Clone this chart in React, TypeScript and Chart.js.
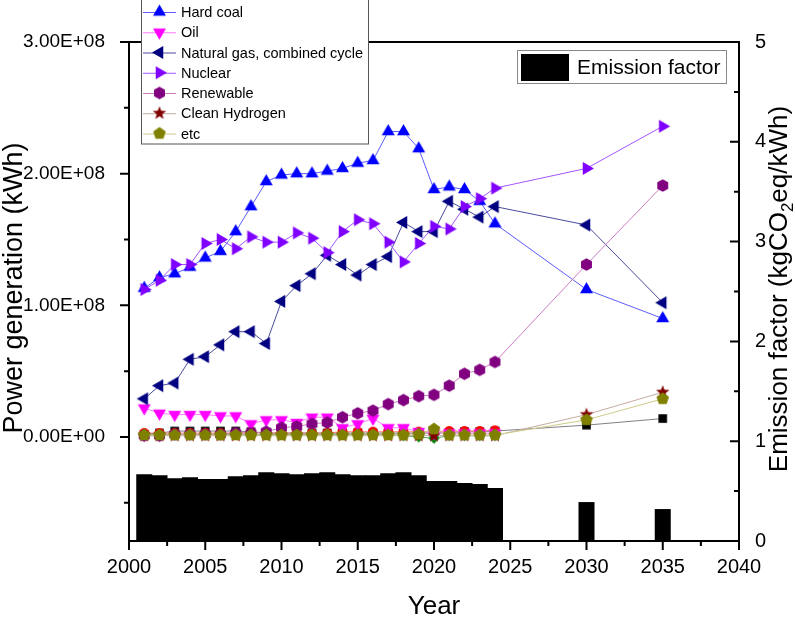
import React, { useEffect, useRef } from "react";
import { Chart, registerables } from "chart.js";

Chart.register(...registerables);

const FONT = '"Liberation Sans", Arial, sans-serif';

const years = [
  2001, 2002, 2003, 2004, 2005, 2006, 2007, 2008, 2009, 2010, 2011, 2012,
  2013, 2014, 2015, 2016, 2017, 2018, 2019, 2020, 2021, 2022, 2023, 2024,
  2030, 2035,
];

const hardCoal = [
  1.13e8, 1.21e8, 1.24e8, 1.29e8, 1.36e8, 1.41e8, 1.56e8, 1.75e8, 1.94e8, 1.99e8,
  2.0e8, 2.0e8, 2.02e8, 2.04e8, 2.08e8, 2.1e8, 2.32e8, 2.32e8, 2.19e8, 1.88e8,
  1.9e8, 1.88e8, 1.79e8, 1.62e8, 1.12e8, 0.9e8,
];
const oil = [
  0.22e8, 0.18e8, 0.17e8, 0.17e8, 0.17e8, 0.16e8, 0.16e8, 0.1e8, 0.13e8, 0.13e8,
  0.11e8, 0.15e8, 0.15e8, 0.07e8, 0.1e8, 0.14e8, 0.07e8, 0.07e8, 0.04e8, 0.03e8,
  0.03e8, 0.03e8, 0.03e8, 0.03e8, null, null,
];
const naturalGas = [
  0.29e8, 0.39e8, 0.41e8, 0.59e8, 0.61e8, 0.7e8, 0.8e8, 0.8e8, 0.71e8, 1.03e8,
  1.15e8, 1.24e8, 1.38e8, 1.31e8, 1.23e8, 1.31e8, 1.37e8, 1.63e8, 1.56e8, 1.56e8,
  1.79e8, 1.73e8, 1.67e8, 1.75e8, 1.61e8, 1.02e8,
];
const nuclear = [
  1.12e8, 1.19e8, 1.31e8, 1.31e8, 1.47e8, 1.5e8, 1.43e8, 1.52e8, 1.48e8, 1.48e8,
  1.55e8, 1.51e8, 1.4e8, 1.56e8, 1.65e8, 1.62e8, 1.48e8, 1.33e8, 1.47e8, 1.6e8,
  1.58e8, 1.75e8, 1.81e8, 1.89e8, 2.04e8, 2.36e8,
];
const renewable = [
  0.01e8, 0.01e8, 0.02e8, 0.02e8, 0.02e8, 0.02e8, 0.03e8, 0.03e8, 0.04e8, 0.07e8,
  0.08e8, 0.1e8, 0.11e8, 0.15e8, 0.18e8, 0.2e8, 0.25e8, 0.28e8, 0.31e8, 0.32e8,
  0.39e8, 0.48e8, 0.51e8, 0.57e8, 1.31e8, 1.91e8,
];
const cleanHydrogen = [
  0.01e8, 0.01e8, 0.01e8, 0.01e8, 0.01e8, 0.01e8, 0.01e8, 0.01e8, 0.01e8, 0.01e8,
  0.01e8, 0.01e8, 0.01e8, 0.01e8, 0.01e8, 0.01e8, 0.01e8, 0.01e8, 0.01e8, 0.01e8,
  0.01e8, 0.01e8, 0.01e8, 0.01e8, 0.17e8, 0.34e8,
];
const etc = [
  0.015e8, 0.015e8, 0.015e8, 0.015e8, 0.015e8, 0.015e8, 0.015e8, 0.015e8, 0.015e8, 0.015e8,
  0.015e8, 0.015e8, 0.015e8, 0.015e8, 0.015e8, 0.015e8, 0.015e8, 0.015e8, 0.02e8, 0.06e8,
  0.015e8, 0.015e8, 0.015e8, 0.015e8, 0.13e8, 0.29e8,
];
const otherBlack = [
  0.02e8, 0.03e8, 0.045e8, 0.045e8, 0.045e8, 0.045e8, 0.045e8, 0.04e8, 0.03e8, 0.03e8,
  0.03e8, 0.03e8, 0.03e8, 0.03e8, 0.03e8, 0.03e8, 0.03e8, 0.03e8, 0.03e8, 0.03e8,
  0.035e8, 0.04e8, 0.04e8, 0.045e8, 0.09e8, 0.14e8,
];
const otherRed = [
  0.03e8, 0.03e8, 0.03e8, 0.03e8, 0.03e8, 0.03e8, 0.03e8, 0.035e8, 0.03e8, 0.03e8,
  0.03e8, 0.03e8, 0.03e8, 0.04e8, 0.04e8, 0.04e8, 0.04e8, 0.04e8, 0.04e8, 0.04e8,
  0.045e8, 0.045e8, 0.045e8, 0.05e8, null, null,
];
const otherGreen = [
  0.02e8, 0.02e8, 0.02e8, 0.02e8, 0.02e8, 0.02e8, 0.02e8, 0.02e8, 0.02e8, 0.02e8,
  0.02e8, 0.02e8, 0.02e8, 0.02e8, 0.02e8, 0.02e8, 0.02e8, 0.01e8, 0.0, -0.01e8,
  0.01e8, 0.01e8, 0.01e8, 0.01e8, null, null,
];
const emissionFactor = [
  0.67, 0.66, 0.63, 0.64, 0.62, 0.62, 0.65, 0.66, 0.69, 0.68, 0.67, 0.68, 0.69,
  0.67, 0.66, 0.66, 0.68, 0.69, 0.66, 0.6, 0.6, 0.58, 0.57, 0.53, 0.39, 0.32,
];

const xTicks = [2000, 2005, 2010, 2015, 2020, 2025, 2030, 2035, 2040];
const xMinorTicks = [2002.5, 2007.5, 2012.5, 2017.5, 2022.5, 2027.5, 2032.5, 2037.5];
const leftTicks = [0, 1e8, 2e8, 3e8];
const leftMinorTicks = [-5e7, 5e7, 1.5e8, 2.5e8];
const rightTicks = [0, 1, 2, 3, 4, 5];
const rightMinorTicks = [0.5, 1.5, 2.5, 3.5, 4.5];

type Shape = "up" | "down" | "left" | "right" | "hex" | "pent" | "star" | "square" | "circle" | "diamond";

function makeMarker(shape: Shape, r: number, fill: string): HTMLCanvasElement {
  const size = Math.ceil(r * 2) + 2;
  const c = document.createElement("canvas");
  c.width = size;
  c.height = size;
  const g = c.getContext("2d")!;
  const cx = size / 2;
  const cy = size / 2;
  g.fillStyle = fill;
  g.beginPath();
  const poly = (n: number, startDeg: number) => {
    for (let i = 0; i < n; i++) {
      const a = ((startDeg + (360 / n) * i) * Math.PI) / 180;
      const px = cx + Math.cos(a) * r;
      const py = cy + Math.sin(a) * r;
      if (i === 0) g.moveTo(px, py);
      else g.lineTo(px, py);
    }
    g.closePath();
  };
  switch (shape) {
    case "up": poly(3, -90); break;
    case "down": poly(3, 90); break;
    case "left": poly(3, 180); break;
    case "right": poly(3, 0); break;
    case "hex": poly(6, -90); break;
    case "pent": poly(5, -90); break;
    case "diamond": poly(4, -90); break;
    case "square": g.rect(cx - r, cy - r, r * 2, r * 2); break;
    case "circle": g.arc(cx, cy, r, 0, Math.PI * 2); break;
    case "star": {
      for (let i = 0; i < 10; i++) {
        const rr = i % 2 === 0 ? r : r * 0.42;
        const a = ((-90 + 36 * i) * Math.PI) / 180;
        const px = cx + Math.cos(a) * rr;
        const py = cy + Math.sin(a) * rr;
        if (i === 0) g.moveTo(px, py);
        else g.lineTo(px, py);
      }
      g.closePath();
      break;
    }
  }
  g.fill();
  return c;
}

function fmtE(v: number): string {
  const [m, e] = v.toExponential(2).split("e");
  const sign = e[0];
  const digits = e.slice(1).padStart(2, "0");
  return `${m}E${sign}${digits}`;
}

export default function App() {
  const ref = useRef<HTMLCanvasElement | null>(null);

  useEffect(() => {
    if (!ref.current) return;
    Chart.defaults.font.family = FONT;
    Chart.defaults.color = "#000";

    const series = [
      { label: "Hard coal", values: hardCoal, line: "#5c5cff", marker: makeMarker("up", 7.5, "#0000ff"), legend: true, order: 7 },
      { label: "Oil", values: oil, line: "#ff7cff", marker: makeMarker("down", 7.5, "#ff00ff"), legend: true, order: 6 },
      { label: "Natural gas, combined cycle", values: naturalGas, line: "#4a4a9c", marker: makeMarker("left", 7.5, "#000080"), legend: true, order: 5 },
      { label: "Nuclear", values: nuclear, line: "#a455ff", marker: makeMarker("right", 7.5, "#8000ff"), legend: true, order: 4 },
      { label: "Renewable", values: renewable, line: "#cc7cc0", marker: makeMarker("hex", 6.3, "#800080"), legend: true, order: 3 },
      { label: "Clean Hydrogen", values: cleanHydrogen, line: "#c4aaa2", marker: makeMarker("star", 7, "#800000"), legend: true, order: 2 },
      { label: "etc", values: etc, line: "#cccc88", marker: makeMarker("pent", 6.6, "#808000"), legend: true, order: 1 },
      { label: "other1", values: otherBlack, line: "#808080", marker: makeMarker("square", 4.3, "#000000"), legend: false, order: 10 },
      { label: "other2", values: otherRed, line: "#ff8080", marker: makeMarker("circle", 5, "#ff0000"), legend: false, order: 9 },
      { label: "other3", values: otherGreen, line: "#60a060", marker: makeMarker("diamond", 5.5, "#008000"), legend: false, order: 8 },
    ];

    const lineDatasets = series.map((s) => ({
      type: "line" as const,
      label: s.label,
      data: years.map((x, i) => ({ x, y: s.values[i] })),
      borderColor: s.line,
      backgroundColor: s.line,
      borderWidth: 1,
      pointStyle: s.marker,
      pointRadius: 6,
      pointHoverRadius: 6,
      tension: 0,
      spanGaps: false,
      fill: false,
      yAxisID: "y",
      xAxisID: "x",
      order: s.order,
    }));

    const barDataset = {
      type: "bar" as const,
      label: "Emission factor",
      data: years.map((x, i) => ({ x, y: emissionFactor[i] })),
      backgroundColor: "#000000",
      borderWidth: 0,
      barPercentage: 1.05,
      categoryPercentage: 1,
      yAxisID: "y1",
      xAxisID: "x",
      order: 20,
    };

    const framePlugin = {
      id: "frame",
      afterDatasetsDraw(chart: any) {
        const { ctx, chartArea: a, scales } = chart;
        ctx.save();
        ctx.strokeStyle = "#000";
        ctx.lineWidth = 2;
        ctx.beginPath();
        ctx.rect(a.left, a.top, a.right - a.left, a.bottom - a.top);
        ctx.stroke();
        ctx.beginPath();
        xTicks.forEach((v) => {
          const p = scales.x.getPixelForValue(v);
          ctx.moveTo(p, a.bottom);
          ctx.lineTo(p, a.bottom + 9);
        });
        xMinorTicks.forEach((v) => {
          const p = scales.x.getPixelForValue(v);
          ctx.moveTo(p, a.bottom);
          ctx.lineTo(p, a.bottom + 5);
        });
        leftTicks.forEach((v) => {
          const p = scales.y.getPixelForValue(v);
          ctx.moveTo(a.left, p);
          ctx.lineTo(a.left - 9, p);
        });
        leftMinorTicks.forEach((v) => {
          const p = scales.y.getPixelForValue(v);
          ctx.moveTo(a.left, p);
          ctx.lineTo(a.left - 5, p);
        });
        rightTicks.forEach((v) => {
          const p = scales.y1.getPixelForValue(v);
          ctx.moveTo(a.right, p);
          ctx.lineTo(a.right - 9, p);
        });
        rightMinorTicks.forEach((v) => {
          const p = scales.y1.getPixelForValue(v);
          ctx.moveTo(a.right, p);
          ctx.lineTo(a.right - 5, p);
        });
        ctx.stroke();
        ctx.restore();
      },
      afterDraw(chart: any) {
        const { ctx } = chart;
        ctx.save();
        // axis titles
        ctx.fillStyle = "#000";
        ctx.font = `26px ${FONT}`;
        ctx.textAlign = "center";
        ctx.textBaseline = "alphabetic";
        ctx.fillText("Year", 434, 614);

        ctx.save();
        ctx.translate(22, 288);
        ctx.rotate(-Math.PI / 2);
        ctx.font = `27px ${FONT}`;
        ctx.fillText("Power generation (kWh)", 0, 0);
        ctx.restore();

        ctx.save();
        ctx.translate(787, 289);
        ctx.rotate(-Math.PI / 2);
        ctx.textAlign = "left";
        const big = `26px ${FONT}`;
        const small = `17px ${FONT}`;
        const p1 = "Emission factor (kgCO";
        const p2 = "2";
        const p3 = "eq/kWh)";
        ctx.font = big;
        const w1 = ctx.measureText(p1).width;
        const w3 = ctx.measureText(p3).width;
        ctx.font = small;
        const w2 = ctx.measureText(p2).width;
        let x0 = -(w1 + w2 + w3) / 2;
        ctx.font = big;
        ctx.fillText(p1, x0, 0);
        x0 += w1;
        ctx.font = small;
        ctx.fillText(p2, x0, 6);
        x0 += w2;
        ctx.font = big;
        ctx.fillText(p3, x0, 0);
        ctx.restore();

        // main legend
        ctx.fillStyle = "#ffffff";
        ctx.fillRect(141, -2, 227.5, 146);
        ctx.strokeStyle = "#555";
        ctx.lineWidth = 1;
        ctx.strokeRect(141.5, -2, 227, 146);
        ctx.font = `14.5px ${FONT}`;
        ctx.textAlign = "left";
        ctx.textBaseline = "middle";
        const shown = series.filter((s) => s.legend);
        shown.forEach((s, i) => {
          const y = 12 + i * 20.25;
          ctx.strokeStyle = s.line;
          ctx.lineWidth = 1;
          ctx.beginPath();
          ctx.moveTo(143, y + 0.5);
          ctx.lineTo(176, y + 0.5);
          ctx.stroke();
          const m = s.marker;
          ctx.drawImage(m, 159.5 - m.width / 2, y - m.height / 2);
          ctx.fillStyle = "#000";
          ctx.fillText(s.label, 181, y + 1);
        });

        // emission legend
        ctx.fillStyle = "#ffffff";
        ctx.fillRect(517, 50, 210, 33);
        ctx.strokeStyle = "#888";
        ctx.strokeRect(517.5, 50.5, 209, 33);
        ctx.fillStyle = "#000";
        ctx.fillRect(521, 54, 48, 27);
        ctx.font = `21px ${FONT}`;
        ctx.fillText("Emission factor", 577, 68);
        ctx.restore();
      },
    };

    const chart = new Chart(ref.current, {
      type: "line",
      data: { datasets: [barDataset as any, ...lineDatasets] },
      options: {
        responsive: false,
        animation: false,
        events: [],
        layout: { padding: { top: 42, left: 0, right: 0, bottom: 0 } },
        plugins: { legend: { display: false }, tooltip: { enabled: false } },
        scales: {
          x: {
            type: "linear",
            min: 2000,
            max: 2040,
            offset: false,
            grid: { display: false },
            border: { display: false },
            afterBuildTicks: (s: any) => {
              s.ticks = xTicks.map((v) => ({ value: v }));
            },
            afterFit: (s: any) => {
              s.height = 76;
            },
            ticks: {
              font: { size: 20 },
              color: "#000",
              padding: 6,
              maxRotation: 0,
              autoSkip: false,
              callback: (v: any) => String(v),
            },
          },
          y: {
            type: "linear",
            position: "left",
            min: -7.9e7,
            max: 3e8,
            grid: { display: false },
            border: { display: false },
            afterBuildTicks: (s: any) => {
              s.ticks = leftTicks.map((v) => ({ value: v }));
            },
            afterFit: (s: any) => {
              s.width = 129;
            },
            ticks: {
              font: { size: 19 },
              color: "#000",
              padding: 16,
              autoSkip: false,
              callback: (v: any) => fmtE(Number(v)),
            },
          },
          y1: {
            type: "linear",
            position: "right",
            min: 0,
            max: 5,
            grid: { display: false },
            border: { display: false },
            afterBuildTicks: (s: any) => {
              s.ticks = rightTicks.map((v) => ({ value: v }));
            },
            afterFit: (s: any) => {
              s.width = 56;
            },
            ticks: {
              font: { size: 20 },
              color: "#000",
              padding: 8,
              autoSkip: false,
              callback: (v: any) => String(v),
            },
          },
        },
      },
      plugins: [framePlugin],
    });

    return () => {
      chart.destroy();
    };
  }, []);

  return (
    <div style={{ position: "fixed", left: 0, top: 0, width: 795, height: 617, background: "#fff" }}>
      <canvas ref={ref} width={795} height={617} style={{ display: "block" }} />
    </div>
  );
}
